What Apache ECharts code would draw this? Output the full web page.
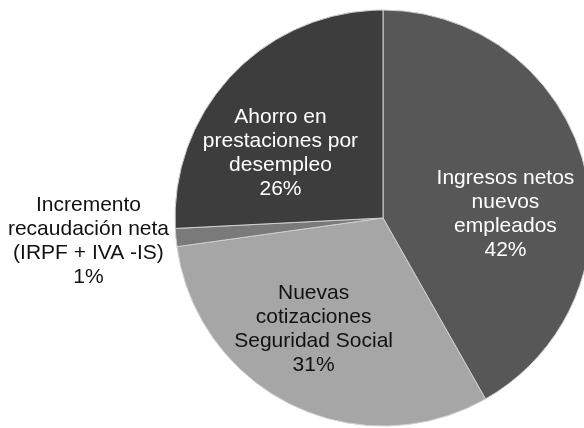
<!DOCTYPE html>
<html>
<head>
<meta charset="utf-8">
<script src="https://cdn.jsdelivr.net/npm/echarts@6/dist/echarts.min.js"></script>
<style>html,body{margin:0;padding:0;background:#fff;}#c{width:584px;height:428px;}</style>
</head>
<body>
<div id="c"></div>
<script>
const categories = [
  "Ingresos netos\nnuevos\nempleados",
  "Nuevas\ncotizaciones\nSeguridad Social",
  "Incremento\nrecaudación neta\n(IRPF + IVA -IS)",
  "Ahorro en\nprestaciones por\ndesempleo"
];
const values = [41.8, 31.0, 1.4, 25.8];
const colors = ["#575757", "#a6a6a6", "#7a7a7a", "#3d3d3d"];
const textColors = ["#ffffff", "#111111", "#111111", "#ffffff"];
const labelOffsets = [[19, 23], [-22, 15], [-188, 13], [-25, 9]];

const chart = echarts.init(document.getElementById('c'), null, {renderer: 'canvas'});
chart.setOption({
  animation: false,
  backgroundColor: '#ffffff',
  series: [{
    type: 'pie',
    center: [383, 218],
    radius: 208,
    startAngle: 90,
    clockwise: true,
    percentPrecision: 0,
    avoidLabelOverlap: false,
    itemStyle: {borderColor: '#d0d0d0', borderWidth: 1},
    label: {
      show: true,
      position: 'inside',
      formatter: '{b}\n{d}%',
      fontFamily: '"Liberation Sans", Arial, sans-serif',
      fontSize: 21,
      lineHeight: 24,
      align: 'center'
    },
    labelLine: {show: false},
    emphasis: {disabled: true},
    data: categories.map((name, i) => ({
      name: name,
      value: values[i],
      itemStyle: {color: colors[i]},
      label: {color: textColors[i], offset: labelOffsets[i]}
    }))
  }]
});
</script>
</body>
</html>
